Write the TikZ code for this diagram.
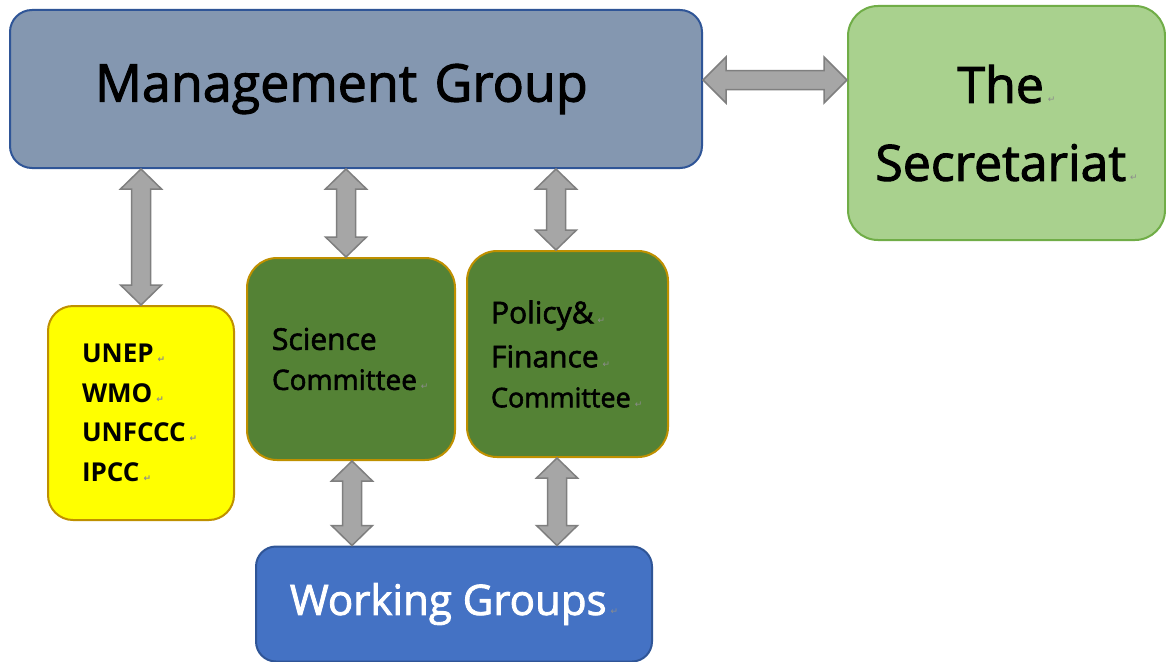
\documentclass[tikz,border=0pt]{standalone}
\usepackage{fontspec}
\setmainfont{Open Sans}
\newfontfamily\medfont[FakeBold=2]{Open Sans}
\newfontfamily\dejavu{DejaVu Sans}
\usetikzlibrary{calc}
\definecolor{mgfill}{HTML}{8497B0}
\definecolor{mgline}{HTML}{2F5597}
\definecolor{secfill}{HTML}{A9D18E}
\definecolor{secline}{HTML}{70AD47}
\definecolor{yelfill}{HTML}{FFFF00}
\definecolor{goldline}{HTML}{BF9000}
\definecolor{grnfill}{HTML}{548235}
\definecolor{wgfill}{HTML}{4472C4}
\definecolor{arrfill}{HTML}{A6A6A6}
\definecolor{arrline}{HTML}{7F7F7F}
\newcommand\retmark{\hspace{4pt}{\dejavu\fontsize{9}{9}\selectfont\textcolor{black!45}{↵}}}
\newcommand\vblock[2]{\path[blockarrow] let \p1=(#1), \p2=(#2) in
  (\x1,\y1) -- (\x1+20.5pt,\y1-20pt) -- (\x1+9.5pt,\y1-20pt) -- (\x1+9.5pt,\y2+20pt)
  -- (\x1+20.5pt,\y2+20pt) -- (\x1,\y2) -- (\x1-20.5pt,\y2+20pt) -- (\x1-9.5pt,\y2+20pt)
  -- (\x1-9.5pt,\y1-20pt) -- (\x1-20.5pt,\y1-20pt) -- cycle;}
\newcommand\hblock[2]{\path[blockarrow] let \p1=(#1), \p2=(#2) in
  (\x1,\y1) -- (\x1+23pt,\y1+23pt) -- (\x1+23pt,\y1+9.5pt) -- (\x2-23pt,\y1+9.5pt)
  -- (\x2-23pt,\y1+23pt) -- (\x2,\y1) -- (\x2-23pt,\y1-23pt) -- (\x2-23pt,\y1-9.5pt)
  -- (\x1+23pt,\y1-9.5pt) -- (\x1+23pt,\y1-23pt) -- cycle;}
\tikzset{
  box/.style={draw, line width=2pt, rectangle, inner ysep=0pt},
  blockarrow/.style={fill=arrfill, draw=arrline, line width=1.5pt, line join=miter},
}
\begin{document}
\begin{tikzpicture}[x=1pt,y=-1pt]
\useasboundingbox[fill=white] (0,0) rectangle (1166,661);

\node[box, fill=mgfill, draw=mgline, rounded corners=22pt,
  minimum width=692pt, minimum height=158pt, text width=522pt, inner xsep=85pt,
  align=left, font=\medfont\fontsize{52}{60}\selectfont] (mg) at (356,89) {Management Group};

\node[box, fill=secfill, draw=secline, rounded corners=30pt,
  minimum width=317pt, minimum height=234pt, align=center,
  font=\medfont\fontsize{50}{78}\selectfont] (sec) at (1006.5,123) {The\retmark\\Secretariat\retmark};

\node[box, fill=yelfill, draw=goldline, rounded corners=25pt,
  minimum width=186pt, minimum height=214pt, text width=118pt, inner xsep=34pt,
  align=left, font=\bfseries\fontsize{26}{39.5}\selectfont] (un) at (141,413)
  {UNEP\retmark\\WMO\retmark\\UNFCCC\retmark\\IPCC\retmark};

\node[box, fill=grnfill, draw=goldline, rounded corners=30pt,
  minimum width=208pt, minimum height=202pt, text width=158pt, inner xsep=25pt,
  align=left, font=\medfont\fontsize{30}{40}\selectfont] (sc) at (351,359)
  {Science\\{\fontsize{28}{40}\selectfont Committee\retmark}};

\node[box, fill=grnfill, draw=goldline, rounded corners=30pt,
  minimum width=201pt, minimum height=206pt, text width=153pt, inner xsep=24pt,
  align=left, font=\medfont\fontsize{30}{40}\selectfont] (pf) at (567.5,354)
  {Policy\&\retmark\\[4pt]Finance\retmark\\{\fontsize{27}{40}\selectfont Committee\retmark}};

\node[box, fill=wgfill, draw=mgline, rounded corners=20pt,
  minimum width=396pt, minimum height=115pt, align=center, text=white,
  font=\medfont\fontsize{42}{50}\selectfont] (wg) at (454,604) {Working Groups\retmark};

\coordinate (a1t) at (mg.south -| un.north);
\coordinate (a1b) at (un.north);
\coordinate (a2b) at ([xshift=-5pt]sc.north);
\coordinate (a2t) at (mg.south -| a2b);
\coordinate (a3b) at ([xshift=-11.5pt]pf.north);
\coordinate (a3t) at (mg.south -| a3b);
\coordinate (a4t) at ([xshift=1pt]sc.south);
\coordinate (a4b) at (wg.north -| a4t);
\coordinate (a5t) at ([xshift=-10.5pt]pf.south);
\coordinate (a5b) at (wg.north -| a5t);
\coordinate (a6l) at ([yshift=9pt]mg.east);
\coordinate (a6r) at (sec.west |- a6l);

\vblock{a1t}{a1b}
\vblock{a2t}{a2b}
\vblock{a3t}{a3b}
\vblock{a4t}{a4b}
\vblock{a5t}{a5b}
\hblock{a6l}{a6r}
\end{tikzpicture}
\end{document}
